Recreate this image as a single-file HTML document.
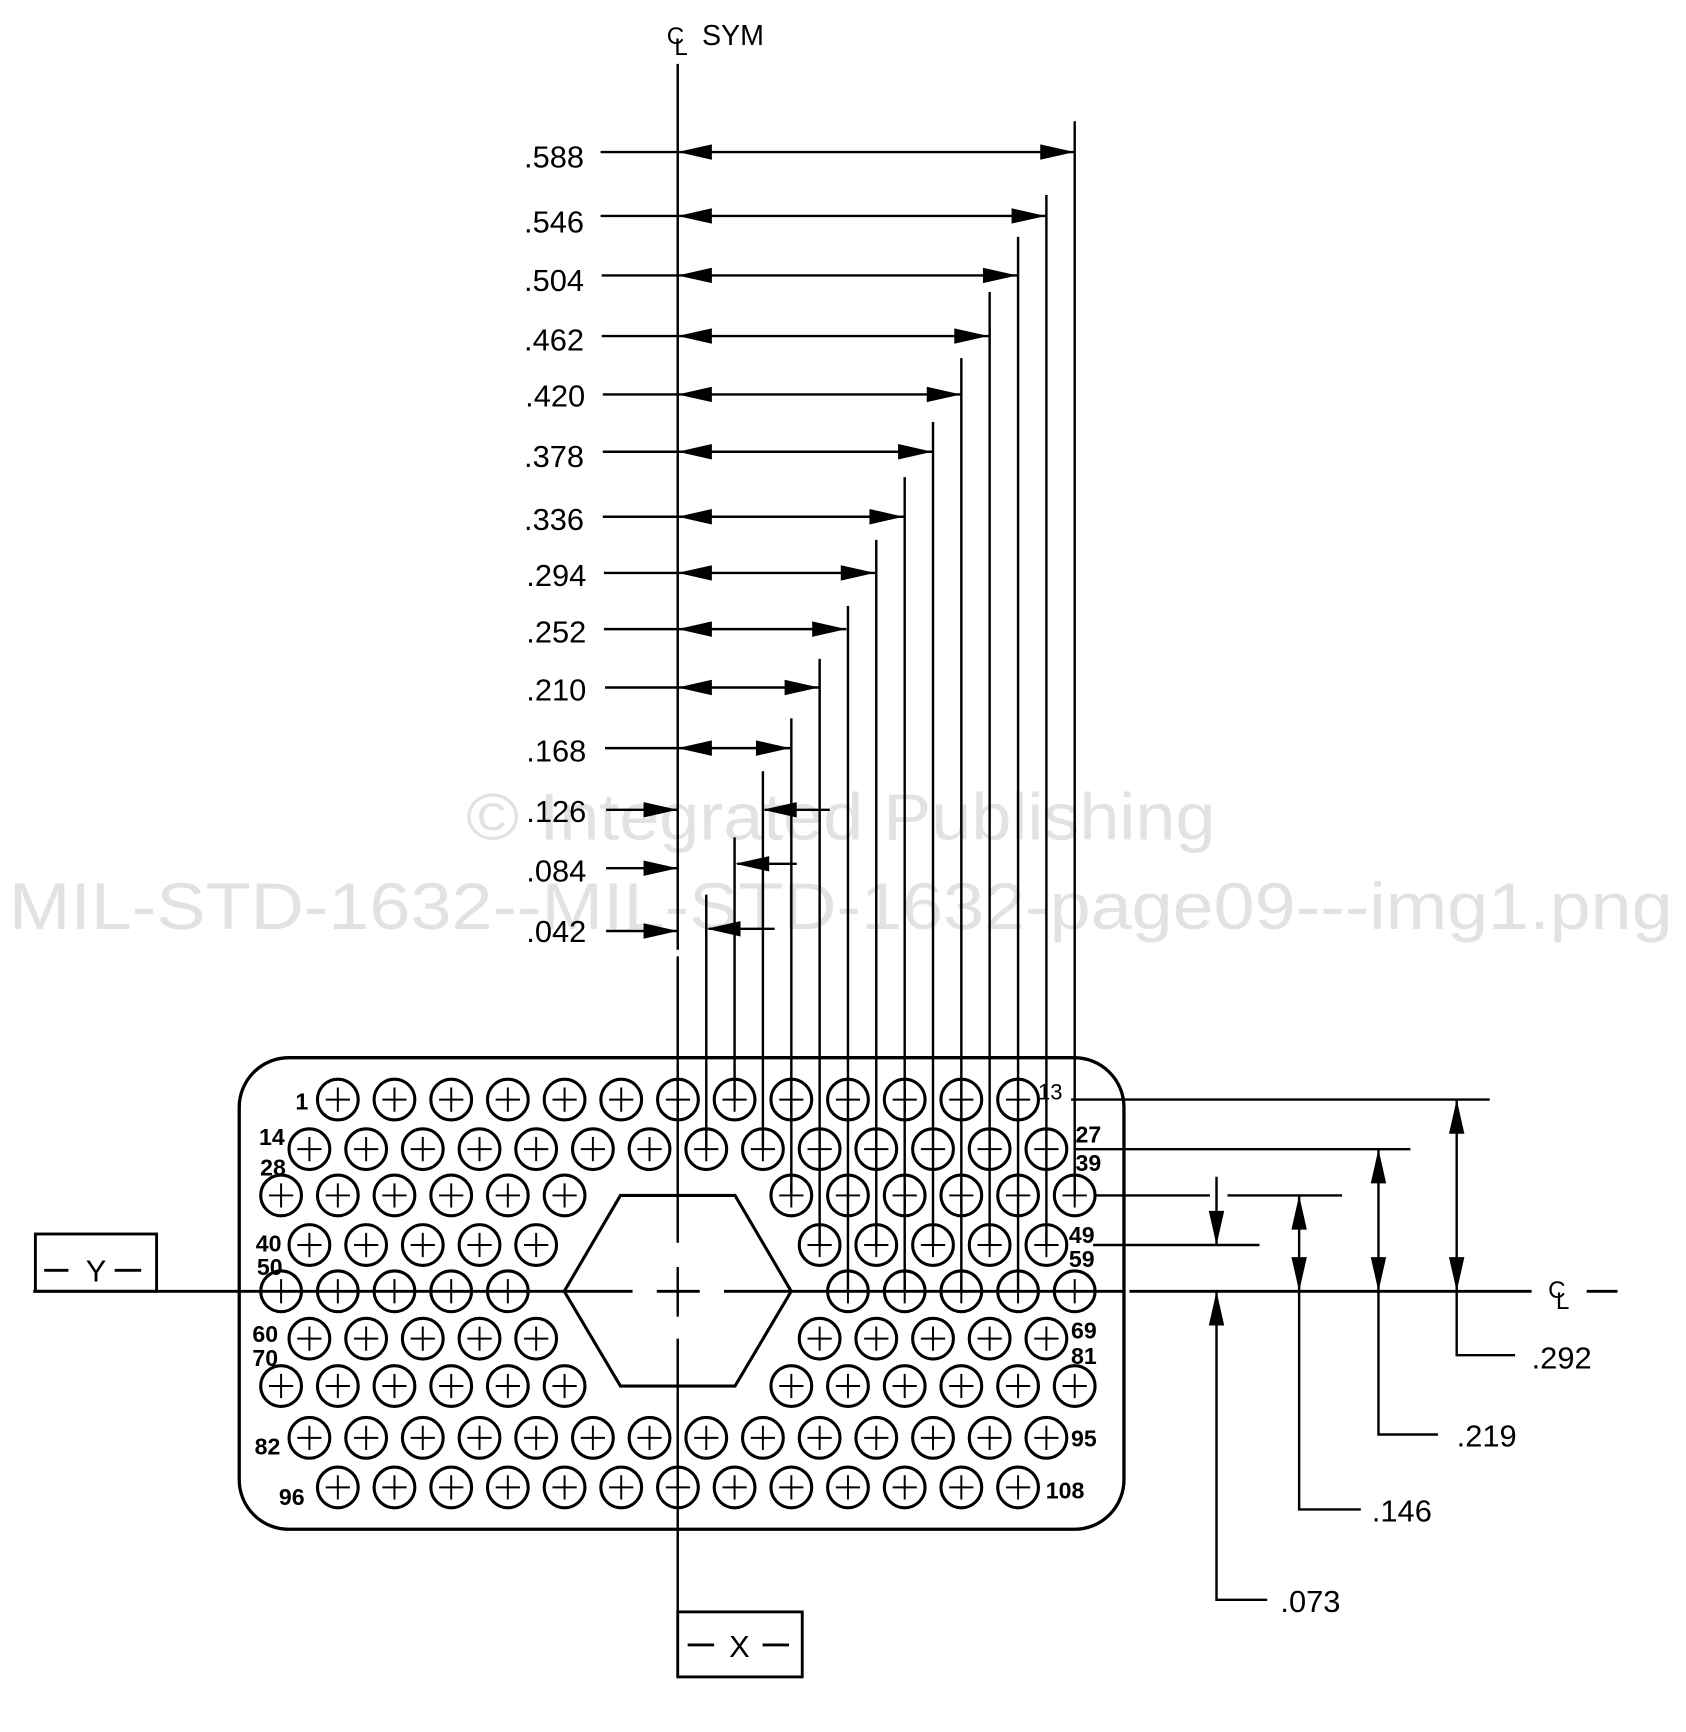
<!DOCTYPE html>
<html><head><meta charset="utf-8"><style>
html,body{margin:0;padding:0;background:#fff}
svg{display:block}
text{font-family:"Liberation Sans",sans-serif}
</style></head><body>
<svg width="1686" height="1732" viewBox="0 0 1530 1572" xmlns="http://www.w3.org/2000/svg">
<defs>
<g id="h"><circle r="18.5" fill="none" stroke="#000" stroke-width="2.8"/><path d="M-11 0H11M0 -11V11" stroke="#000" stroke-width="1.8"/></g>
<path id="ar" d="M0 0L-31 -7L-31 7Z" fill="#000"/>
<path id="al" d="M0 0L31 -7L31 7Z" fill="#000"/>
<path id="ad" d="M0 0L-7 -31L7 -31Z" fill="#000"/>
<path id="au" d="M0 0L-7 31L7 31Z" fill="#000"/>
</defs>
<rect width="1530" height="1572" fill="#fff"/>

<g fill="#e2e2e2" font-size="60">
<text x="763" y="762" text-anchor="middle" textLength="680" lengthAdjust="spacingAndGlyphs">© Integrated Publishing</text>
<text x="8" y="843" textLength="1510" lengthAdjust="spacingAndGlyphs">MIL-STD-1632--MIL-STD-1632-page09---img1.png</text>
</g>

<g stroke="#000" stroke-width="2.2" fill="none">
<path d="M615 58V862M615 868V1128M615 1150V1195M615 1215V1522"/>
<path d="M30 1172H574M596 1172H635M657 1172H1020M1025 1172H1390M1440 1172H1468" stroke-width="2.6"/>
<path d="M545 138H975M545 196H949M546 250H923M546 305H897M547 358H872M547 410H846M547 469H820M548 520H794M548 571H768M549 624H743M549 679H717"/>
<path d="M550 735H615M550 788H615M550 845H615M694 735H753M669 784H723M643 843H703"/>
<path d="M975.3 110V1085M949.6 177V1130M923.9 215V1172M898.1 265V1130M872.4 325V1172M846.7 383V1130M821 433V1172M795.2 490V1130M769.5 550V1172M743.8 598V1130M718.1 652V1085M692.3 700V1043M666.6 760V998M640.9 812V1043"/>
<path d="M972 998H1352M975 1043H1280M993 1085H1098M1114 1085H1218M992 1130H1143"/>
<path d="M1322 998V1230H1375M1251 1043V1302H1305M1179 1085V1370H1235M1104 1068V1130M1104 1172V1452H1150"/>
<rect x="217" y="960" width="803" height="428" rx="45" stroke-width="3"/>
<path d="M512 1172L563 1085H667L718 1172L667 1258H563Z" stroke-width="2.8"/>
<rect x="32" y="1120" width="110" height="52" stroke-width="2.6"/>
<rect x="615" y="1463" width="113" height="59" stroke-width="2.6"/>
<path d="M40 1153H62M104 1153H128M624 1493H648M692 1493H716" stroke-width="2.6"/>
</g>

<g>
<use href="#al" x="615" y="138"/><use href="#ar" x="975" y="138"/>
<use href="#al" x="615" y="196"/><use href="#ar" x="949" y="196"/>
<use href="#al" x="615" y="250"/><use href="#ar" x="923" y="250"/>
<use href="#al" x="615" y="305"/><use href="#ar" x="897" y="305"/>
<use href="#al" x="615" y="358"/><use href="#ar" x="872" y="358"/>
<use href="#al" x="615" y="410"/><use href="#ar" x="846" y="410"/>
<use href="#al" x="615" y="469"/><use href="#ar" x="820" y="469"/>
<use href="#al" x="615" y="520"/><use href="#ar" x="794" y="520"/>
<use href="#al" x="615" y="571"/><use href="#ar" x="768" y="571"/>
<use href="#al" x="615" y="624"/><use href="#ar" x="743" y="624"/>
<use href="#al" x="615" y="679"/><use href="#ar" x="717" y="679"/>
<use href="#ar" x="615" y="735"/><use href="#al" x="692" y="735"/>
<use href="#ar" x="615" y="788"/><use href="#al" x="667" y="784"/>
<use href="#ar" x="615" y="845"/><use href="#al" x="641" y="843"/>
<use href="#au" x="1322" y="998"/><use href="#ad" x="1322" y="1172"/>
<use href="#au" x="1251" y="1043"/><use href="#ad" x="1251" y="1172"/>
<use href="#au" x="1179" y="1085"/><use href="#ad" x="1179" y="1172"/>
<use href="#ad" x="1104" y="1130"/><use href="#au" x="1104" y="1172"/>
</g>

<g>
<use href="#h" x="306.5" y="998"/><use href="#h" x="357.9" y="998"/><use href="#h" x="409.4" y="998"/><use href="#h" x="460.8" y="998"/><use href="#h" x="512.3" y="998"/><use href="#h" x="563.7" y="998"/><use href="#h" x="615.2" y="998"/><use href="#h" x="666.6" y="998"/><use href="#h" x="718.1" y="998"/><use href="#h" x="769.5" y="998"/><use href="#h" x="821" y="998"/><use href="#h" x="872.4" y="998"/><use href="#h" x="923.9" y="998"/>
<use href="#h" x="280.7" y="1043"/><use href="#h" x="332.2" y="1043"/><use href="#h" x="383.6" y="1043"/><use href="#h" x="435.1" y="1043"/><use href="#h" x="486.5" y="1043"/><use href="#h" x="538" y="1043"/><use href="#h" x="589.4" y="1043"/><use href="#h" x="640.9" y="1043"/><use href="#h" x="692.3" y="1043"/><use href="#h" x="743.8" y="1043"/><use href="#h" x="795.2" y="1043"/><use href="#h" x="846.7" y="1043"/><use href="#h" x="898.1" y="1043"/><use href="#h" x="949.6" y="1043"/>
<use href="#h" x="255" y="1085"/><use href="#h" x="306.5" y="1085"/><use href="#h" x="357.9" y="1085"/><use href="#h" x="409.4" y="1085"/><use href="#h" x="460.8" y="1085"/><use href="#h" x="512.3" y="1085"/><use href="#h" x="718.1" y="1085"/><use href="#h" x="769.5" y="1085"/><use href="#h" x="821" y="1085"/><use href="#h" x="872.4" y="1085"/><use href="#h" x="923.9" y="1085"/><use href="#h" x="975.3" y="1085"/>
<use href="#h" x="280.7" y="1130"/><use href="#h" x="332.2" y="1130"/><use href="#h" x="383.6" y="1130"/><use href="#h" x="435.1" y="1130"/><use href="#h" x="486.5" y="1130"/><use href="#h" x="743.8" y="1130"/><use href="#h" x="795.2" y="1130"/><use href="#h" x="846.7" y="1130"/><use href="#h" x="898.1" y="1130"/><use href="#h" x="949.6" y="1130"/>
<use href="#h" x="255" y="1172"/><use href="#h" x="306.5" y="1172"/><use href="#h" x="357.9" y="1172"/><use href="#h" x="409.4" y="1172"/><use href="#h" x="460.8" y="1172"/><use href="#h" x="769.5" y="1172"/><use href="#h" x="821" y="1172"/><use href="#h" x="872.4" y="1172"/><use href="#h" x="923.9" y="1172"/><use href="#h" x="975.3" y="1172"/>
<use href="#h" x="280.7" y="1215"/><use href="#h" x="332.2" y="1215"/><use href="#h" x="383.6" y="1215"/><use href="#h" x="435.1" y="1215"/><use href="#h" x="486.5" y="1215"/><use href="#h" x="743.8" y="1215"/><use href="#h" x="795.2" y="1215"/><use href="#h" x="846.7" y="1215"/><use href="#h" x="898.1" y="1215"/><use href="#h" x="949.6" y="1215"/>
<use href="#h" x="255" y="1258"/><use href="#h" x="306.5" y="1258"/><use href="#h" x="357.9" y="1258"/><use href="#h" x="409.4" y="1258"/><use href="#h" x="460.8" y="1258"/><use href="#h" x="512.3" y="1258"/><use href="#h" x="718.1" y="1258"/><use href="#h" x="769.5" y="1258"/><use href="#h" x="821" y="1258"/><use href="#h" x="872.4" y="1258"/><use href="#h" x="923.9" y="1258"/><use href="#h" x="975.3" y="1258"/>
<use href="#h" x="280.7" y="1305"/><use href="#h" x="332.2" y="1305"/><use href="#h" x="383.6" y="1305"/><use href="#h" x="435.1" y="1305"/><use href="#h" x="486.5" y="1305"/><use href="#h" x="538" y="1305"/><use href="#h" x="589.4" y="1305"/><use href="#h" x="640.9" y="1305"/><use href="#h" x="692.3" y="1305"/><use href="#h" x="743.8" y="1305"/><use href="#h" x="795.2" y="1305"/><use href="#h" x="846.7" y="1305"/><use href="#h" x="898.1" y="1305"/><use href="#h" x="949.6" y="1305"/>
<use href="#h" x="306.5" y="1350"/><use href="#h" x="357.9" y="1350"/><use href="#h" x="409.4" y="1350"/><use href="#h" x="460.8" y="1350"/><use href="#h" x="512.3" y="1350"/><use href="#h" x="563.7" y="1350"/><use href="#h" x="615.2" y="1350"/><use href="#h" x="666.6" y="1350"/><use href="#h" x="718.1" y="1350"/><use href="#h" x="769.5" y="1350"/><use href="#h" x="821" y="1350"/><use href="#h" x="872.4" y="1350"/><use href="#h" x="923.9" y="1350"/>
</g>

<g font-size="21" font-weight="bold" fill="#000">
<text x="268" y="1007">1</text>
<text x="235" y="1039">14</text>
<text x="236" y="1067">28</text>
<text x="232" y="1136">40</text>
<text x="233" y="1157">50</text>
<text x="229" y="1218">60</text>
<text x="229" y="1240">70</text>
<text x="231" y="1320">82</text>
<text x="253" y="1366">96</text>
<text x="976" y="1037">27</text>
<text x="976" y="1063">39</text>
<text x="970" y="1128">49</text>
<text x="970" y="1150">59</text>
<text x="972" y="1215">69</text>
<text x="972" y="1238">81</text>
<text x="972" y="1313">95</text>
<text x="949" y="1360">108</text>
</g>
<text x="942" y="998" font-size="20" fill="#000">13</text>

<g font-size="28" fill="#000" text-anchor="end">
<text x="530" y="152">.588</text>
<text x="530" y="211">.546</text>
<text x="530" y="264">.504</text>
<text x="530" y="318">.462</text>
<text x="531" y="369">.420</text>
<text x="530" y="424">.378</text>
<text x="530" y="481">.336</text>
<text x="532" y="532">.294</text>
<text x="532" y="583">.252</text>
<text x="532" y="636">.210</text>
<text x="532" y="691">.168</text>
<text x="532" y="746">.126</text>
<text x="532" y="800">.084</text>
<text x="532" y="855">.042</text>
</g>
<g font-size="28" fill="#000">
<text x="1390" y="1242">.292</text>
<text x="1322" y="1313">.219</text>
<text x="1245" y="1381">.146</text>
<text x="1162" y="1463">.073</text>
</g>
<g fill="#000">
<text x="605" y="40" font-size="22">C</text>
<text x="612" y="50" font-size="22">L</text>
<text x="637" y="41" font-size="26">SYM</text>
<text x="1405" y="1178" font-size="22">C</text>
<text x="1412" y="1188" font-size="22">L</text>
<text x="87" y="1163" font-size="28" text-anchor="middle">Y</text>
<text x="671" y="1504" font-size="28" text-anchor="middle">X</text>
</g>
</svg>
</body></html>
